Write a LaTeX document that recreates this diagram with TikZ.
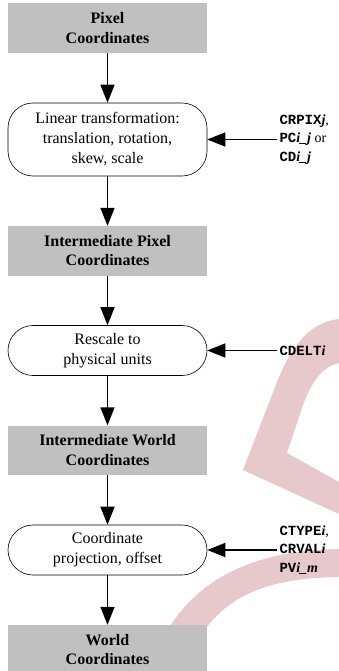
\documentclass[tikz,border=0pt]{standalone}
\usepackage{fontspec}
\setmainfont{Liberation Serif}
\setmonofont{Liberation Mono}
\usetikzlibrary{positioning,arrows.meta}
\definecolor{boxgray}{RGB}{192,192,192}
\definecolor{markpink}{RGB}{231,200,203}
\newcommand{\kw}[1]{\texttt{\bfseries #1}}
\newcommand{\idx}[1]{\textbf{\textit{#1}}}

\begin{document}
\begin{tikzpicture}[x=1pt, y=-1pt, >={Triangle[length=18pt,width=14pt]},
  node distance=49.5pt,
  coord box/.style={fill=boxgray, minimum width=199pt, minimum height=49.5pt,
    align=center, font=\fontsize{16}{19.5}\selectfont\bfseries},
  trans box/.style={draw, line width=0.6pt, rounded corners=25pt,
    minimum width=199pt, minimum height=50pt, align=center,
    font=\fontsize{16}{20}\selectfont},
  key label/.style={right=70pt of #1, align=left, inner sep=2pt,
    font=\fontsize{14}{18.5}\selectfont},
  flow/.style={->, line width=1.5pt}]
\useasboundingbox (0,0) rectangle (339,671);

% watermark in the background
\fill [markpink] (339,319) .. controls (310,322) and (290,345) .. (272,395)
  -- (243,470) -- (339,514) -- (339,482) -- (287,453) -- (303,405)
  .. controls (312,380) and (324,366) .. (339,363) -- cycle;
\fill [markpink] (160,645) .. controls (185,590) and (240,550) .. (339,549)
  -- (339,577) .. controls (260,578) and (220,600) .. (195,645) -- cycle;

% coordinates and transformations
\node [coord box] (pixel) at (107.5,28.25) {Pixel\\Coordinates};
\node [trans box, minimum height=73pt, below=of pixel] (linear)
  {Linear transformation:\\translation, rotation,\\skew, scale};
\node [coord box, below=of linear] (interpix) {Intermediate Pixel\\Coordinates};
\node [trans box, below=of interpix] (rescale) {Rescale to\\physical units};
\node [coord box, below=of rescale] (interworld) {Intermediate World\\Coordinates};
\node [trans box, below=of interworld] (project) {Coordinate\\projection, offset};
\node [coord box, below=of project] (world) {World\\Coordinates};

% keywords
\node [key label=linear] (key-linear)
  {\kw{CRPIX}\idx{j},\\\kw{PC}\idx{i\_j} or\\\kw{CD}\idx{i\_j}};
\node [key label=rescale] (key-rescale) {\kw{CDELT}\idx{i}};
\node [key label=project] (key-project)
  {\kw{CTYPE}\idx{i},\\\kw{CRVAL}\idx{i}\\\kw{PV}\idx{i\_m}};

% edges down the chain
\foreach \a/\b in {pixel/linear, linear/interpix, interpix/rescale,
    rescale/interworld, interworld/project, project/world}
  \draw [flow] (\a) -- (\b);

% edges from the keywords
\foreach \b in {linear, rescale, project}
  \draw [flow] (key-\b.west) -- (\b.east);
\end{tikzpicture}
\end{document}
